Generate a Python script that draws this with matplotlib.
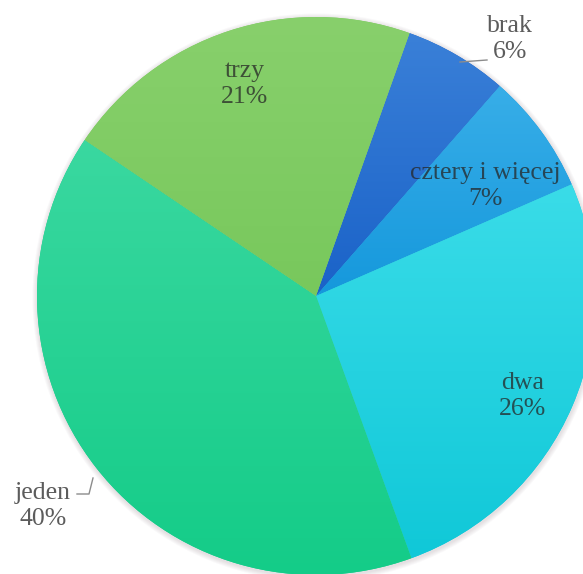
import numpy as np
import matplotlib.pyplot as plt
from matplotlib.colors import LinearSegmentedColormap
from matplotlib.patches import Circle

# Liczba dzieci w gospodarstwie
categories = ["brak", "cztery i więcej", "dwa", "jeden", "trzy"]
shares = [6, 7, 26, 40, 21]
top_colors = ["#3a80d8", "#38aee8", "#3adce8", "#3ad8a0", "#88d06c"]
bottom_colors = ["#1a62c8", "#1598dc", "#10c8d8", "#14cc88", "#78c85c"]

W, H = 583, 574
fig = plt.figure(figsize=(W / 100, H / 100), dpi=100)
ax = fig.add_axes([0, 0, 1, 1])

cx, cy, r = 316, H - 296, 279

# soft shadow under the pie
for k in range(1, 6):
    ax.add_patch(Circle((cx + 0.5, cy - 1.5), r + k, color="#6a5060",
                        alpha=0.035, lw=0, zorder=0))

wedges, _ = ax.pie(shares, startangle=70.4, counterclock=False,
                   center=(cx, cy), radius=r, frame=True,
                   wedgeprops=dict(linewidth=0))

# vertical gradient fill for each slice
grad = np.linspace(0, 1, 256).reshape(-1, 1)
for w, c_top, c_bot in zip(wedges, top_colors, bottom_colors):
    w.set_facecolor(c_bot)
    bb = w.get_path().get_extents()
    cmap = LinearSegmentedColormap.from_list("g", [c_bot, c_top])
    im = ax.imshow(grad, cmap=cmap, origin="lower", aspect="auto",
                   extent=(bb.x0, bb.x1, bb.y0, bb.y1), zorder=2)
    im.set_clip_path(w)

ax.set_xlim(0, W)
ax.set_ylim(0, H)
ax.set_aspect("equal")
ax.axis("off")

# label positions in pixels from the top-left corner
label_pos = {
    "brak": (510, 39),
    "cztery i więcej": (485, 186),
    "dwa": (523, 396),
    "jeden": (43, 506),
    "trzy": (245, 84),
}
for name, val in zip(categories, shares):
    x, y = label_pos[name]
    ax.text(x, H - y, f"{name}\n{val}%", ha="center", va="center",
            family="Liberation Serif", fontsize=18.5, color="#262626",
            alpha=0.75, linespacing=1.2, zorder=5)

# leader lines
ax.plot([487, 460], [H - 60, H - 62], color="#8c8c8c", lw=1, zorder=5)
ax.plot([77, 89, 93], [H - 494, H - 494, H - 478], color="#8c8c8c", lw=1,
        zorder=5)

fig.savefig("out.png", dpi=100)
